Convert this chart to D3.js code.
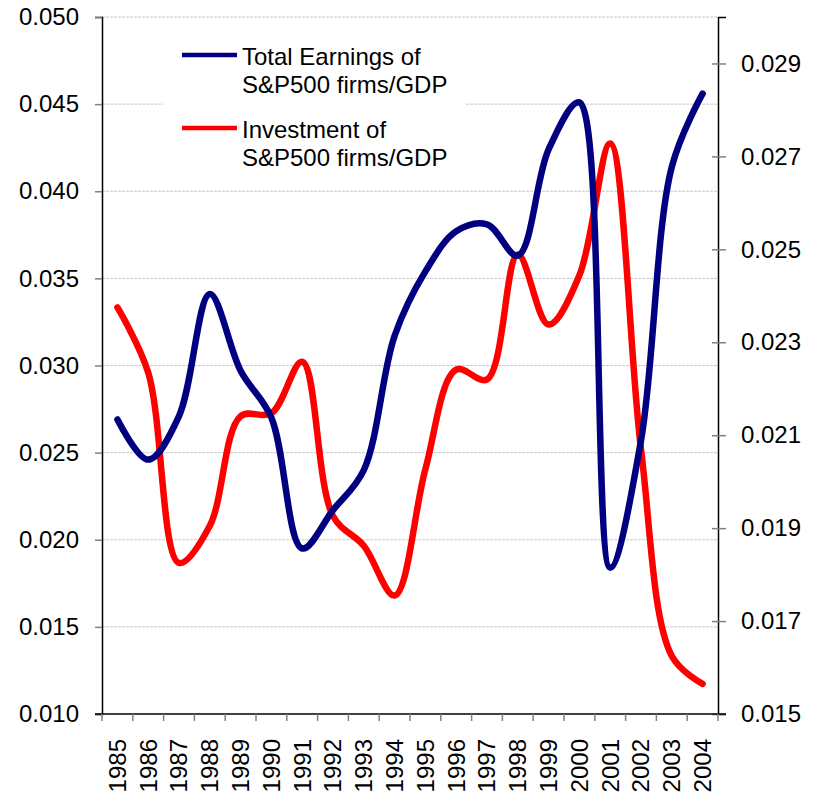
<!DOCTYPE html>
<html>
<head>
<meta charset="utf-8">
<script src="https://cdn.jsdelivr.net/npm/d3@7"></script>
<style>
  body { margin: 0; background: #fff; }
  text { font-family: Arial, "Liberation Sans", sans-serif; }
</style>
</head>
<body>
<svg width="823" height="793"></svg>
<script>
// chart data
var years = ["1985", "1986", "1987", "1988", "1989", "1990", "1991", "1992", "1993", "1994",
             "1995", "1996", "1997", "1998", "1999", "2000", "2001", "2002", "2003", "2004"];
var earnings = [0.0269, 0.0246, 0.0271, 0.0341, 0.0297, 0.0270, 0.0195, 0.0217, 0.0240, 0.0317,
                0.0354, 0.0377, 0.0381, 0.0363, 0.0424, 0.0451, 0.0184, 0.0257, 0.0414, 0.0456];
var investment = [0.02375, 0.02235, 0.01825, 0.01905, 0.02141, 0.02147, 0.02258, 0.01926, 0.01862, 0.01755,
                  0.02027, 0.02241, 0.0222, 0.02489, 0.02338, 0.02444, 0.02728, 0.0207, 0.01625, 0.01565];
var leftTicks = [0.010, 0.015, 0.020, 0.025, 0.030, 0.035, 0.040, 0.045, 0.050];
var rightTicks = [0.015, 0.017, 0.019, 0.021, 0.023, 0.025, 0.027, 0.029];
var legendLabels = [["Total Earnings of", "S&P500 firms/GDP"], ["Investment of", "S&P500 firms/GDP"]];

var svg = d3.select("svg");
var plotLeft = 102, plotRight = 718, plotTop = 17, plotBottom = 714;
var fontSize = "24px";

var x = d3.scaleBand().domain(years).range([plotLeft, plotRight]);
var yL = d3.scaleLinear().domain([0.010, 0.050]).range([plotBottom, plotTop]);
var yR = d3.scaleLinear().domain([0.015, 0.030]).range([plotBottom, plotTop]);

// gridlines
svg.append("g")
    .selectAll("line")
    .data(leftTicks.slice(1))
    .enter()
    .append("line")
    .attr("x1", plotLeft).attr("x2", plotRight)
    .attr("y1", d => yL(d)).attr("y2", d => yL(d))
    .attr("stroke", "#c8c8c8")
    .attr("stroke-width", 1)
    .attr("stroke-dasharray", "3,1");

// left axis
var axisL = svg.append("g")
    .attr("transform", "translate(" + plotLeft + ",0)")
    .call(d3.axisLeft(yL).tickValues(leftTicks).tickFormat(d3.format(".3f")).tickSize(7).tickPadding(16));
axisL.select(".domain").attr("stroke", "#000").attr("stroke-width", 1.5);
axisL.selectAll(".tick line").attr("stroke", "#808080").attr("stroke-width", 1.5);
axisL.selectAll("text").style("font-size", fontSize).attr("fill", "#000");

// right axis
var axisR = svg.append("g")
    .attr("transform", "translate(" + plotRight + ",0)")
    .call(d3.axisRight(yR).tickValues(rightTicks).tickFormat(d3.format(".3f")).tickSize(8).tickPadding(15));
axisR.select(".domain").attr("stroke", "#000").attr("stroke-width", 1.5);
axisR.selectAll(".tick line").attr("x1", -6).attr("stroke", "#808080").attr("stroke-width", 1.5);
axisR.selectAll("text").style("font-size", fontSize).attr("fill", "#000");

// bottom axis, ticks between categories
var axisB = svg.append("g")
    .attr("transform", "translate(0," + plotBottom + ")");
axisB.append("line")
    .attr("x1", plotLeft - 7).attr("x2", plotRight + 8)
    .attr("stroke", "#000").attr("stroke-width", 1.5);
axisB.selectAll(".sep")
    .data(years.concat(["end"]))
    .enter()
    .append("line")
    .attr("class", "sep")
    .attr("x1", (d, i) => i < years.length ? x(d) : x(years[years.length - 1]) + x.bandwidth())
    .attr("x2", (d, i) => i < years.length ? x(d) : x(years[years.length - 1]) + x.bandwidth())
    .attr("y1", 0).attr("y2", 7)
    .attr("stroke", "#808080").attr("stroke-width", 1.5);
axisB.selectAll(".yr")
    .data(years)
    .enter()
    .append("text")
    .attr("class", "yr")
    .attr("transform", d => "translate(" + (x(d) + x.bandwidth() / 2) + ",25) rotate(-90)")
    .attr("dy", "0.35em")
    .attr("text-anchor", "end")
    .style("font-size", fontSize)
    .text(d => d);

// lines (smoothed like the spreadsheet's curve)
var lineL = d3.line()
    .x((d, i) => x(years[i]) + x.bandwidth() / 2)
    .y(d => yL(d))
    .curve(d3.curveCatmullRom.alpha(0.5));
var lineR = d3.line()
    .x((d, i) => x(years[i]) + x.bandwidth() / 2)
    .y(d => yR(d))
    .curve(d3.curveCatmullRom.alpha(0.5));

svg.append("path")
    .datum(investment)
    .attr("d", lineR)
    .attr("fill", "none")
    .attr("stroke", "#ff0000")
    .attr("stroke-width", 6.5)
    .attr("stroke-linecap", "round")
    .attr("stroke-linejoin", "round");

svg.append("path")
    .datum(earnings)
    .attr("d", lineL)
    .attr("fill", "none")
    .attr("stroke", "#000080")
    .attr("stroke-width", 6.5)
    .attr("stroke-linecap", "round")
    .attr("stroke-linejoin", "round");

// legend
var legend = svg.append("g").attr("class", "legend");
legend.append("rect")
    .attr("x", 163).attr("y", 28)
    .attr("width", 302).attr("height", 150)
    .attr("fill", "#fff");
var legendColors = ["#000080", "#ff0000"];
var legendY = [55, 128];
legendLabels.forEach(function (lines, i) {
    legend.append("line")
        .attr("x1", 182).attr("x2", 237)
        .attr("y1", legendY[i]).attr("y2", legendY[i])
        .attr("stroke", legendColors[i])
        .attr("stroke-width", 4.5);
    lines.forEach(function (t, j) {
        legend.append("text")
            .attr("x", 242)
            .attr("y", legendY[i] + 10 + j * 28)
            .style("font-size", fontSize)
            .text(t);
    });
});
</script>
</body>
</html>
